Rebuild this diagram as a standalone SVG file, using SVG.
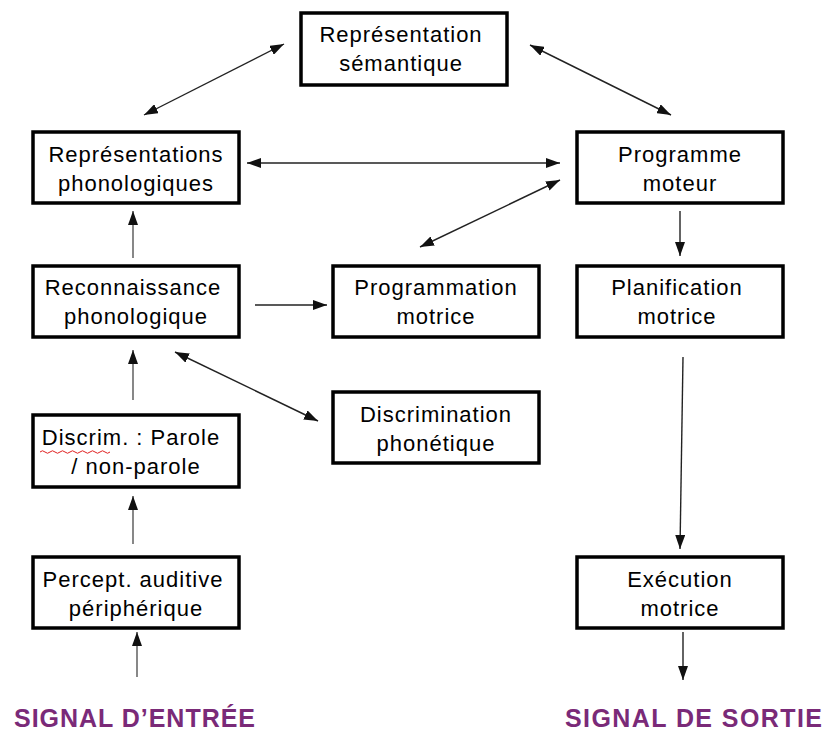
<svg xmlns="http://www.w3.org/2000/svg" width="828" height="734" viewBox="0 0 828 734">
<style>
.box rect{fill:#fff;stroke:#000;stroke-width:3.5}
.box text{font-family:"Liberation Sans",Arial,sans-serif;font-size:22px;letter-spacing:1px;fill:#000;text-anchor:middle}
.conn line{stroke:#222;stroke-width:1.4}
.sig{font-family:"Liberation Sans",Arial,sans-serif;font-size:25px;font-weight:bold;fill:#7a2a78}
</style>
<defs>
<marker id="ah" viewBox="0 0 14 10" refX="14" refY="5" markerWidth="14" markerHeight="10" markerUnits="userSpaceOnUse" orient="auto-start-reverse">
<path d="M0,0 L14,5 L0,10 z" fill="#111"/>
</marker>
</defs>
<rect width="828" height="734" fill="#fff"/>
<g class="conn" id="connectors">
<line x1="144" y1="115" x2="284" y2="44" marker-start="url(#ah)" marker-end="url(#ah)"/>
<line x1="530" y1="45" x2="671" y2="115" marker-start="url(#ah)" marker-end="url(#ah)"/>
<line x1="247" y1="163" x2="560" y2="163" marker-start="url(#ah)" marker-end="url(#ah)"/>
<line x1="420" y1="247" x2="560" y2="180" marker-start="url(#ah)" marker-end="url(#ah)"/>
<line x1="680" y1="211" x2="680" y2="256" marker-end="url(#ah)"/>
<line x1="133" y1="258" x2="133" y2="211" marker-end="url(#ah)" style="stroke:#555"/>
<line x1="255" y1="305" x2="327" y2="305" marker-end="url(#ah)"/>
<line x1="175" y1="352" x2="318" y2="421" marker-start="url(#ah)" marker-end="url(#ah)"/>
<line x1="133" y1="400" x2="133" y2="350" marker-end="url(#ah)" style="stroke:#555"/>
<line x1="133" y1="544" x2="133" y2="496" marker-end="url(#ah)" style="stroke:#555"/>
<line x1="137" y1="677" x2="137" y2="632" marker-end="url(#ah)" style="stroke:#555"/>
<line x1="683" y1="357" x2="680" y2="549" marker-end="url(#ah)"/>
<line x1="683" y1="632" x2="683" y2="680" marker-end="url(#ah)"/>
</g>
<g class="box" id="rep-semantique">
<rect x="301" y="13" width="206" height="72"/>
<text x="401" y="42">Représentation</text>
<text x="401" y="71">sémantique</text>
</g>
<g class="box" id="rep-phonologiques">
<rect x="33" y="132" width="206" height="71"/>
<text x="136" y="162">Représentations</text>
<text x="136" y="191">phonologiques</text>
</g>
<g class="box" id="programme-moteur">
<rect x="577" y="132" width="206" height="71"/>
<text x="680" y="162">Programme</text>
<text x="680" y="191">moteur</text>
</g>
<g class="box" id="reconnaissance">
<rect x="33" y="266" width="206" height="71"/>
<text x="133" y="295">Reconnaissance</text>
<text x="136" y="324">phonologique</text>
</g>
<g class="box" id="programmation">
<rect x="333" y="266" width="206" height="71"/>
<text x="436" y="295">Programmation</text>
<text x="436" y="324">motrice</text>
</g>
<g class="box" id="planification">
<rect x="577" y="266" width="206" height="71"/>
<text x="677" y="295">Planification</text>
<text x="677" y="324">motrice</text>
</g>
<g class="box" id="discrimination-phonetique">
<rect x="333" y="392" width="206" height="71"/>
<text x="436" y="422">Discrimination</text>
<text x="436" y="451">phonétique</text>
</g>
<g class="box" id="discrim-parole">
<rect x="33" y="415" width="206" height="72"/>
<text x="131" y="445">Discrim. : Parole</text>
<text x="136" y="474">/ non-parole</text>
<path d="M40,452 q2.5,-2.5 5,0 t5,0 t5,0 t5,0 t5,0 t5,0 t5,0 t5,0 t5,0 t5,0 t5,0 t5,0 t5,0 t5,0" fill="none" stroke="#e02020" stroke-width="1"/>
</g>
<g class="box" id="percept">
<rect x="33" y="557" width="206" height="71"/>
<text x="133" y="587">Percept. auditive</text>
<text x="136" y="616">périphérique</text>
</g>
<g class="box" id="execution">
<rect x="577" y="557" width="206" height="71"/>
<text x="680" y="587">Exécution</text>
<text x="680" y="616">motrice</text>
</g>
<g id="signal-entree"><text class="sig" x="14" y="727" textLength="241">SIGNAL D’ENTRÉE</text></g>
<g id="signal-sortie"><text class="sig" x="565" y="727" textLength="257">SIGNAL DE SORTIE</text></g>
</svg>
